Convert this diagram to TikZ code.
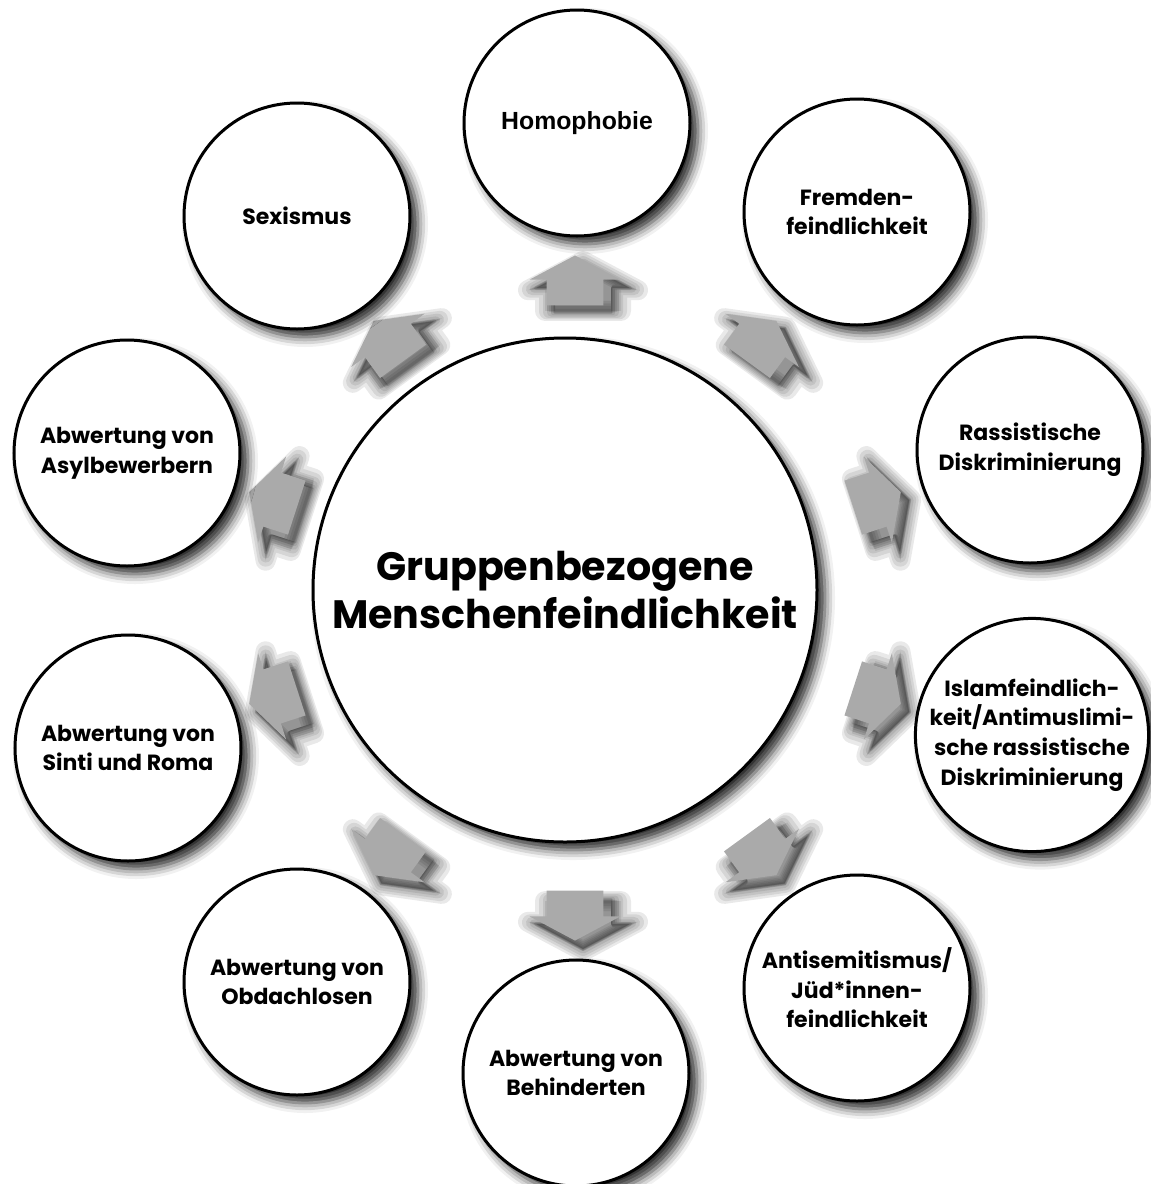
\documentclass[tikz,border=0pt]{standalone}
\usepackage{fontspec}
\setmainfont{Poppins}
\newfontfamily\helvfont{Liberation Sans}
\usetikzlibrary{calc,shapes.arrows,shadows.blur}
\definecolor{pointergray}{RGB}{170,170,170}
\tikzset{
    softshadow/.style={
        blur shadow={shadow xshift=4pt, shadow yshift=-4pt,
                     shadow blur radius=5pt, shadow opacity=85}
    },
    topic/.style={
        circle,
        draw=black, line width=1.5pt,
        fill=white,
        inner sep=0pt,
        minimum size=113pt,
        align=center,
        font=\fontsize{11}{14.8}\selectfont\bfseries,
        softshadow
    },
    core/.style={
        topic,
        minimum size=252pt,
        font=\fontsize{19.8}{24}\selectfont\bfseries
    },
    pointer/.style={
        single arrow,
        fill=pointergray, draw=none,
        inner xsep=0pt, inner ysep=14pt,
        minimum height=25pt,
        single arrow head extend=8.5pt,
        single arrow tip angle=124
    },
    % hand made soft shadow under the arrows
    pointershade/.style={
        pointer,
        fill=black, draw=black,
        line width=#1, line join=round,
        fill opacity=0.085, draw opacity=0.085
    }
}
\begin{document}
\begin{tikzpicture}[x=0.5pt, y=0.5pt]
    \useasboundingbox (0,0) rectangle (1151,-1184);
    % ring of arrows
    \coordinate (ring) at (575,-598);
    \foreach \a [count=\i] in {90,54,18,-18,-54,-90,-126,-162,162,126} {
        \foreach \w in {10pt,8pt,6pt,4pt,2pt,0.5pt}
            \node[pointershade=\w, rotate=\a] at ($(ring)+(\a:310)+(8,-8)$) {};
        \node[pointer, rotate=\a] (p\i) at ($(ring)+(\a:310)$) {};
    }
    % centre
    \node[core] (gmf) at (565,-590) {Gruppenbezogene\\Menschenfeindlichkeit};
    % topics
    \node[topic, font=\fontsize{12.4}{14}\selectfont\helvfont\bfseries] (homo) at (577,-123) {Homophobie};
    \node[topic] (fremd) at (857,-212) {Fremden-\\feindlichkeit};
    \node[topic] (rass) at (1030,-450) {Rassistische\\Diskriminierung};
    \node[topic] (islam) at (1032,-735) {Islamfeindlich-\\keit/Antimuslimi-\\sche rassistische\\Diskriminierung};
    \node[topic] (antisem) at (857,-988) {Antisemitismus/\\Jüd*innen-\\feindlichkeit};
    \node[topic] (behind) at (576,-1073) {Abwertung von\\Behinderten};
    \node[topic] (obdach) at (297,-982) {Abwertung von\\Obdachlosen};
    \node[topic] (sinti) at (128,-748) {Abwertung von\\Sinti und Roma};
    \node[topic] (asyl) at (127,-453) {Abwertung von\\Asylbewerbern};
    \node[topic] (sex) at (297,-216) {Sexismus};
\end{tikzpicture}
\end{document}
